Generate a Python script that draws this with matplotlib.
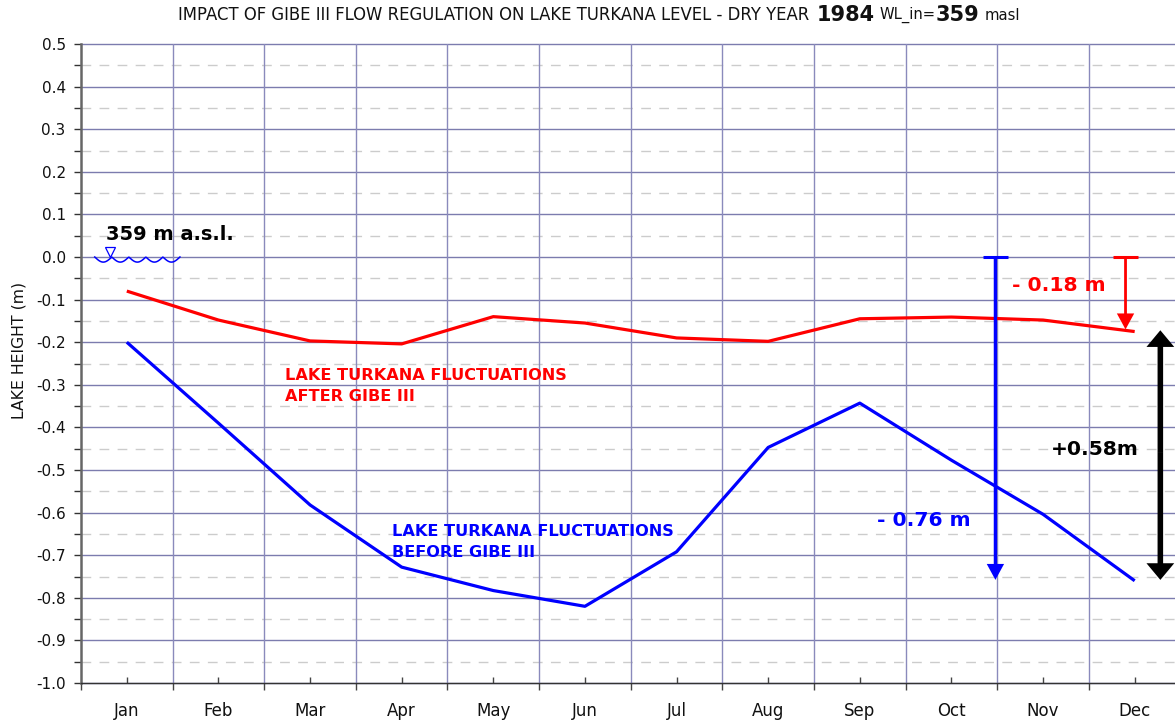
import numpy as np
import matplotlib
matplotlib.use('Agg')
import matplotlib.pyplot as plt

months = ['Jan', 'Feb', 'Mar', 'Apr', 'May', 'Jun', 'Jul', 'Aug', 'Sep', 'Oct', 'Nov', 'Dec']
after_gibe = [-0.080, -0.148, -0.197, -0.204, -0.140, -0.155, -0.190, -0.198, -0.145, -0.141, -0.148, -0.175]
before_gibe = [-0.200, -0.390, -0.582, -0.728, -0.783, -0.820, -0.692, -0.447, -0.343, -0.477, -0.604, -0.760]
y_major = [0.5, 0.4, 0.3, 0.2, 0.1, 0.0, -0.1, -0.2, -0.3, -0.4, -0.5, -0.6, -0.7, -0.8, -0.9, -1.0]
y_minor = [0.45, 0.35, 0.25, 0.15, 0.05, -0.05, -0.15, -0.25, -0.35, -0.45, -0.55, -0.65, -0.75, -0.85, -0.95]

plt.rcParams['font.family'] = 'DejaVu Sans'

fig = plt.figure(figsize=(11.75, 7.21), dpi=100)
ax = fig.add_axes([81 / 1175, 38 / 721, 1094 / 1175, 639 / 721])

x = np.arange(1, 13)
ax.set_xlim(0.5, 12.44)
ax.set_ylim(-1.0, 0.5)

# grid
for v in y_minor:
    ax.axhline(v, color='#cccccc', lw=1, dashes=(7, 6), zorder=1)
for v in y_major:
    ax.axhline(v, color='#7c7cae', lw=1, zorder=1, clip_on=False)
for v in np.arange(1.5, 12.5):
    ax.axvline(v, color='#8a8abc', lw=1, zorder=1)

ax.plot(x, after_gibe, color='#ff0000', lw=2.3, zorder=3, solid_capstyle='butt')
ax.plot(x, before_gibe, color='#0000ff', lw=2.3, zorder=3, solid_capstyle='butt')

# axes
ax.spines['top'].set_visible(False)
ax.spines['right'].set_visible(False)
ax.spines['left'].set_color('#666666')
ax.spines['left'].set_linewidth(1.8)
ax.spines['bottom'].set_color('#333333')
ax.spines['bottom'].set_linewidth(1)
ax.set_yticks(y_major)
ax.set_yticklabels(['%.1f' % v for v in y_major], fontsize=11, color='#111111')
ax.set_yticks(y_minor, minor=True)
ax.tick_params(axis='y', which='major', length=5, width=1, color='#333333', pad=6)
ax.tick_params(axis='y', which='minor', length=5, width=1, color='#333333')
ax.set_xticks(np.arange(0.5, 12.5))
ax.set_xticklabels([])
ax.set_xticks(x, minor=True)
ax.set_xticklabels(months, minor=True, fontsize=12, color='#111111')
ax.tick_params(axis='x', which='major', length=5, width=1, color='#444444')
ax.tick_params(axis='x', which='minor', direction='in', length=4, width=1, color='#444444', pad=14)
ax.set_ylabel('LAKE HEIGHT (m)', fontsize=11.3, color='#111111', labelpad=7, y=0.521)

# title with bold parts
title_y = 15 / 721
fs = 11.9
fig.text(178 / 1175, 1 - title_y, 'IMPACT OF GIBE III FLOW REGULATION ON LAKE TURKANA LEVEL - DRY YEAR', fontsize=fs, va='center', color='#111111')
fig.text(817 / 1175, 1 - title_y, '1984', fontsize=15, fontweight='bold', va='center', color='#111111')
fig.text(880 / 1175, 1 - title_y, 'WL_in=', fontsize=10.6, va='center', color='#111111')
fig.text(936 / 1175, 1 - title_y, '359', fontsize=15, fontweight='bold', va='center', color='#111111')
fig.text(985 / 1175, 1 - title_y, 'masl', fontsize=10.6, va='center', color='#111111')

# labels inside plot
ax.text(2.73, -0.303, 'LAKE TURKANA FLUCTUATIONS\nAFTER GIBE III', color='#ff0000', fontsize=11.6, fontweight='bold', va='center', linespacing=1.5)
ax.text(3.89, -0.669, 'LAKE TURKANA FLUCTUATIONS\nBEFORE GIBE III', color='#0000ff', fontsize=11.6, fontweight='bold', va='center', linespacing=1.5)
ax.text(0.77, 0.053, '359 m a.s.l.', color='black', fontsize=14, fontweight='bold', va='center')
ax.text(10.66, -0.068, '- 0.18 m', color='#ff0000', fontsize=14.6, fontweight='bold', va='center')
ax.text(9.19, -0.618, '- 0.76 m', color='#0000ff', fontsize=14.6, fontweight='bold', va='center')
ax.text(11.08, -0.453, '+0.58m', color='black', fontsize=14.6, fontweight='bold', va='center')

# water level symbol
wave_x = np.linspace(0.65, 1.58, 150)
ax.plot(wave_x, -0.012 * np.abs(np.sin((wave_x - 0.65) / 0.93 * 5 * np.pi)), color='#0000ff', lw=1.1, zorder=4)
ax.plot([0.82], [0.0125], marker='v', ms=6.5, mfc='white', mec='#0000ff', mew=0.9, zorder=5)

# measurement arrows
def arrow(xpos, y0, y1, color, shaft, head_w, head_l):
    ax.annotate('', xy=(xpos, y1), xytext=(xpos, y0),
                arrowprops=dict(width=shaft, headwidth=head_w, headlength=head_l, color=color, lw=0, shrink=0),
                zorder=6)

arrow(10.48, 0.0, -0.758, '#0000ff', 2.4, 12.5, 11.5)
ax.plot([10.34, 10.62], [0, 0], color='#0000ff', lw=2.2, zorder=6, solid_capstyle='butt')
arrow(11.9, 0.0, -0.17, '#ff0000', 2.0, 12.5, 11.5)
ax.plot([11.76, 12.04], [0, 0], color='#ff0000', lw=2.2, zorder=6, solid_capstyle='butt')
arrow(12.28, -0.46, -0.758, 'black', 4, 20, 12)
arrow(12.28, -0.46, -0.172, 'black', 4, 20, 12)

fig.savefig('out.png', dpi=100, facecolor='white')
